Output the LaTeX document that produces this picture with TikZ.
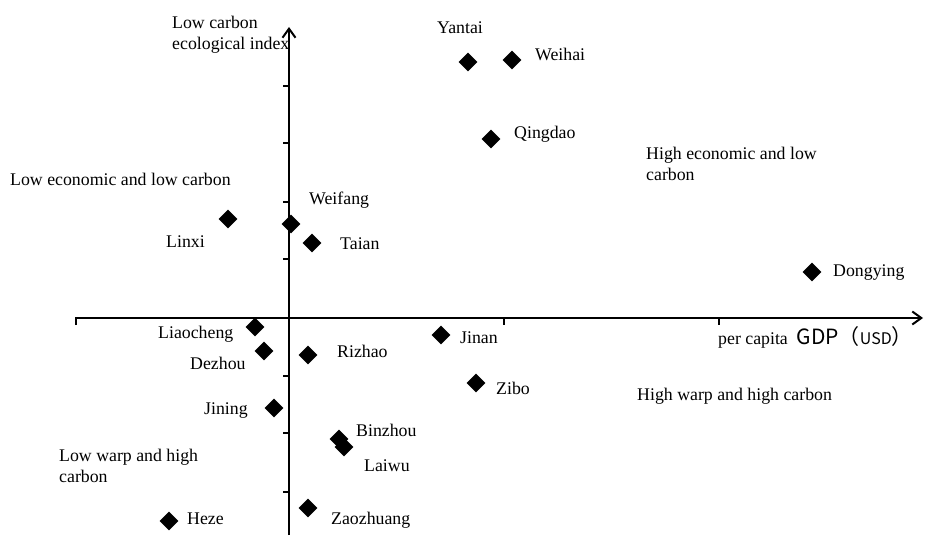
\documentclass[tikz,border=0pt]{standalone}
\usepackage{fontspec}
\setmainfont{Liberation Serif}
\newfontfamily\cjk{Noto Sans CJK SC}
\usetikzlibrary{shapes.geometric,arrows.meta}
\tikzset{
  city/.style={diamond,fill=black,inner sep=0pt,minimum size=19pt},
  lab/.style={font=\fontsize{17.8}{21}\selectfont,inner sep=0pt,anchor=west,text height=14pt,text depth=2pt},
  zone/.style={font=\fontsize{17.8}{21}\selectfont,inner sep=0pt,anchor=west,align=left},
  axis/.style={line width=2.2pt,-{Straight Barb[length=9pt,width=13pt,line width=2pt]}},
  tick/.style={line width=1.3pt},
}
\begin{document}
\begin{tikzpicture}[x=1pt,y=-1pt]
 \useasboundingbox (0,0) rectangle (925,535);
 % axes
 \draw[axis] (76,325) -- (76,318) -- (923,318);
 \draw[axis] (289,535) -- (289,27);
 \foreach \y in {86,143,202,259,376,433,492} \draw[tick] (283,\y) -- (289,\y);
 \foreach \x in {504,719} \draw[tick] (\x,318) -- (\x,325);
 \node[zone] (yname) at (172,35) {Low carbon\\ecological index};
 \node[lab] (xname) at (718,338) {per capita\ \ {\cjk\fontsize{21}{22}\selectfont GDP（{\fontsize{16}{16}\selectfont USD}）}};
 % quadrants
 \node[zone] (q1) at (646,164) {High economic and low\\carbon};
 \node[lab] (q2) at (10,179) {Low economic and low carbon};
 \node[zone] (q3) at (59,466) {Low warp and high\\carbon};
 \node[lab] (q4) at (637,394) {High warp and high carbon};
 % cities
 \node[city] (yantai) at (468,62) {};     \node[lab] (yantai-l) at (437,28) {Yantai};
 \node[city] (weihai) at (512,60) {};     \node[lab] (weihai-l) at (535,54) {Weihai};
 \node[city] (qingdao) at (491,139) {};   \node[lab] (qingdao-l) at (514,132) {Qingdao};
 \node[city] (dongying) at (812,272) {};  \node[lab] (dongying-l) at (833,270) {Dongying};
 \node[city] (linxi) at (228,219) {};     \node[lab] (linxi-l) at (166,241) {Linxi};
 \node[city] (weifang) at (291,224) {};   \node[lab] (weifang-l) at (309,198) {Weifang};
 \node[city] (taian) at (312,243) {};     \node[lab] (taian-l) at (340,243) {Taian};
 \node[city] (liaocheng) at (255,327) {}; \node[lab] (liaocheng-l) at (158,332) {Liaocheng};
 \node[city] (dezhou) at (264,351) {};    \node[lab] (dezhou-l) at (190,363) {Dezhou};
 \node[city] (rizhao) at (308,355) {};    \node[lab] (rizhao-l) at (337,351) {Rizhao};
 \node[city] (jinan) at (441,335) {};     \node[lab] (jinan-l) at (460,337) {Jinan};
 \node[city] (zibo) at (476,383) {};      \node[lab] (zibo-l) at (496,388) {Zibo};
 \node[city] (jining) at (274,408) {};    \node[lab] (jining-l) at (204,408) {Jining};
 \node[city] (binzhou) at (339,439) {};   \node[lab] (binzhou-l) at (356,430) {Binzhou};
 \node[city] (laiwu) at (344,447) {};     \node[lab] (laiwu-l) at (364,465) {Laiwu};
 \node[city] (heze) at (169,521) {};      \node[lab] (heze-l) at (187,518) {Heze};
 \node[city] (zaozhuang) at (308,508) {}; \node[lab] (zaozhuang-l) at (331,518) {Zaozhuang};
\end{tikzpicture}
\end{document}
